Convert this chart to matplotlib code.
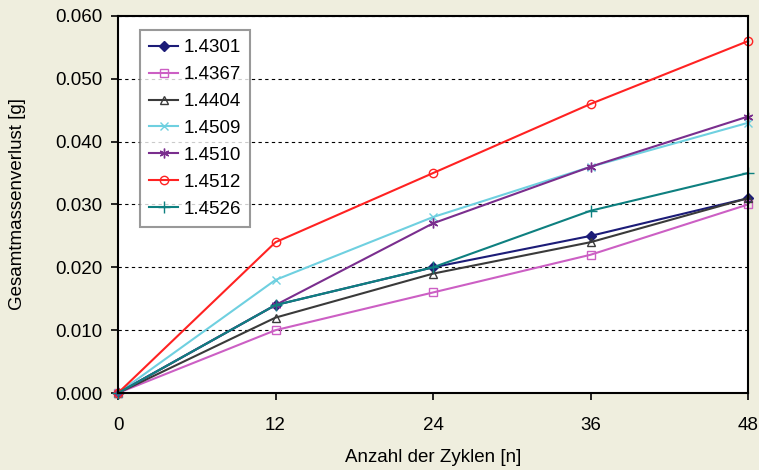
import matplotlib
matplotlib.use("Agg")
import matplotlib.pyplot as plt

plt.rcParams["font.family"] = ["Liberation Sans", "DejaVu Sans"]

# Data
cycles = [0, 12, 24, 36, 48]
labels = ["1.4301", "1.4367", "1.4404", "1.4509", "1.4510", "1.4512", "1.4526"]
v_14301 = [0.0, 0.014, 0.020, 0.025, 0.031]
v_14367 = [0.0, 0.010, 0.016, 0.022, 0.030]
v_14404 = [0.0, 0.012, 0.019, 0.024, 0.031]
v_14509 = [0.0, 0.018, 0.028, 0.036, 0.043]
v_14510 = [0.0, 0.014, 0.027, 0.036, 0.044]
v_14512 = [0.0, 0.024, 0.035, 0.046, 0.056]
v_14526 = [0.0, 0.014, 0.020, 0.029, 0.035]
series = [v_14301, v_14367, v_14404, v_14509, v_14510, v_14512, v_14526]
yticks = [0.0, 0.01, 0.02, 0.03, 0.04, 0.05, 0.06]

# style per series: colour, marker, marker face, size
_STYLE = [
    ("#1c1c78", "D", "#1c1c78", 5),
    ("#cc5fc4", "s", "none", 6),
    ("#3a3a3a", "^", "none", 6),
    ("#6fd0e0", "x", "#6fd0e0", 6),
    ("#7a2e8e", (6, 2, 0), "#7a2e8e", 7),
    ("#ff2222", "o", "none", 6),
    ("#0e8080", "+", "#0e8080", 8),
]

fig = plt.figure(figsize=(7.59, 4.70), dpi=100, facecolor="#efeede")
ax = fig.add_axes([0.1555, 0.1638, 0.83, 0.8022])
ax.set_facecolor("white")

for lab, vals, (c, m, mfc, ms) in zip(labels, series, _STYLE):
    ax.plot(cycles, vals, color=c, marker=m, markerfacecolor=mfc,
            markeredgecolor=c, markersize=ms, linewidth=1.5,
            markeredgewidth=1.0, label=lab, clip_on=False)

ax.set_xlim(0, 48)
ax.set_ylim(0, 0.06)
ax.set_xticks(cycles)
ax.set_yticks(yticks)
ax.set_yticklabels([f"{v:.3f}" for v in yticks])
ax.tick_params(labelsize=13.5, direction="out", length=5, width=1.2, color="black")
ax.tick_params(axis="x", pad=12)
ax.tick_params(axis="y", pad=6)
ax.grid(axis="y", linestyle=(0, (3, 3)), color="black", linewidth=0.8)
for s in ax.spines.values():
    s.set_linewidth(1.5)
    s.set_color("black")

ax.set_xlabel("Anzahl der Zyklen [n]", fontsize=13.5, labelpad=11)
ax.set_ylabel("Gesamtmassenverlust [g]", fontsize=13.5, labelpad=21)

leg = ax.legend(loc="upper left", bbox_to_anchor=(0.035, 0.963), fontsize=13.5,
                frameon=True, fancybox=False, edgecolor="#808080",
                handlelength=1.5, borderpad=0.5, labelspacing=0.52,
                handletextpad=0.3, borderaxespad=0)
leg.get_frame().set_linewidth(1.5)

fig.savefig("out.png", dpi=100, facecolor=fig.get_facecolor())
